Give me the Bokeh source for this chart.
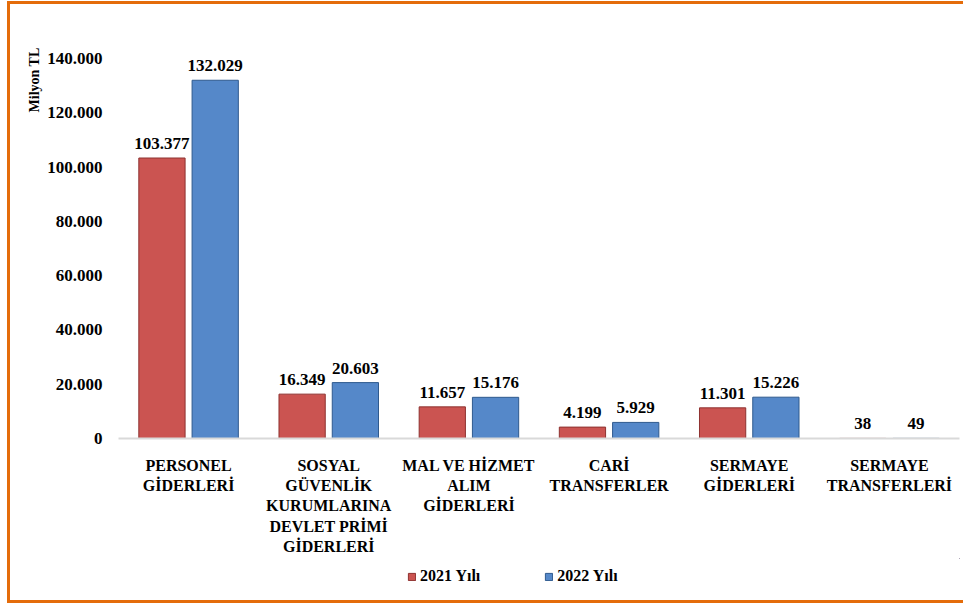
from bokeh.plotting import figure
from bokeh.layouts import column
from bokeh.models import (ColumnDataSource, FactorRange, Range1d, FixedTicker,
                          CustomJSTickFormatter, Legend, LegendItem, LabelSet, Title)
from bokeh.transform import dodge
from bokeh.core.properties import value
from bokeh.embed import file_html
from bokeh.resources import INLINE

categories = [
    "PERSONEL\nGİDERLERİ",
    "SOSYAL\nGÜVENLİK\nKURUMLARINA\nDEVLET PRİMİ\nGİDERLERİ",
    "MAL VE HİZMET\nALIM\nGİDERLERİ",
    "CARİ\nTRANSFERLER",
    "SERMAYE\nGİDERLERİ",
    "SERMAYE\nTRANSFERLERİ",
]
values_2021 = [103377, 16349, 11657, 4199, 11301, 38]
values_2022 = [132029, 20603, 15176, 5929, 15226, 49]
series_names = ["2021 Yılı", "2022 Yılı"]
y_ticks = [0, 20000, 40000, 60000, 80000, 100000, 120000, 140000]

def fmt(v):
    return f"{v:,}".replace(",", ".")

src = ColumnDataSource(dict(
    cat=categories,
    v1=values_2021,
    v2=values_2022,
    l1=[fmt(v) for v in values_2021],
    l2=[fmt(v) for v in values_2022],
))

FONT = "Liberation Serif"
RED = "#CB5451"
RED_LINE = "#8E3230"
BLUE = "#5588C9"
BLUE_LINE = "#2F5A8E"

p = figure(
    width=953, height=554,
    x_range=FactorRange(*categories, range_padding=0),
    y_range=Range1d(0, 150000),
    output_backend="svg", toolbar_location=None,
    min_border_left=108, min_border_right=4, min_border_top=27,
    min_border_bottom=120,
)
p.outline_line_color = None
p.xgrid.grid_line_color = None
p.ygrid.grid_line_color = None

r1 = p.vbar(x=dodge("cat", -0.19, range=p.x_range), top="v1", width=0.33,
            source=src, fill_color=RED, line_color=RED_LINE, line_width=1)
r2 = p.vbar(x=dodge("cat", 0.19, range=p.x_range), top="v2", width=0.33,
            source=src, fill_color=BLUE, line_color=BLUE_LINE, line_width=1)

for col, lab, off in (("v1", "l1", -0.19), ("v2", "l2", 0.19)):
    ls = LabelSet(x=dodge("cat", off, range=p.x_range), y=col, text=lab, source=src,
                  y_offset=9, text_align="center", text_baseline="bottom",
                  text_font=value(FONT), text_font_style="bold",
                  text_font_size="17px", text_color="#000000")
    p.add_layout(ls)

# y axis
p.yaxis.ticker = FixedTicker(ticks=y_ticks)
p.yaxis.formatter = CustomJSTickFormatter(code="""
    if (tick == 0) return "0";
    return String(Math.round(tick/1000)) + ".000";
""")
p.yaxis.axis_line_color = None
p.yaxis.major_tick_line_color = None
p.yaxis.minor_tick_line_color = None
p.yaxis.major_label_text_font = FONT
p.yaxis.major_label_text_font_style = "bold"
p.yaxis.major_label_text_font_size = "17px"
p.yaxis.major_label_text_color = "#000000"
p.yaxis.major_label_standoff = 10

# y axis title as a side title aligned to the top
p.add_layout(Title(text="Milyon TL", align="right", offset=16, standoff=6,
                   text_font=FONT, text_font_style="bold",
                   text_font_size="14px", text_color="#000000"), "left")

# x axis
p.xaxis.axis_line_color = "#D9D9D9"
p.xaxis.axis_line_width = 2
p.xaxis.major_tick_line_color = None
p.xaxis.minor_tick_line_color = None
p.xaxis.major_label_text_font = FONT
p.xaxis.major_label_text_font_style = "bold"
p.xaxis.major_label_text_font_size = "16px"
p.xaxis.major_label_text_color = "#000000"
p.xaxis.major_label_text_line_height = 1.2
p.xaxis.major_label_standoff = 12

# legend strip
p2 = figure(width=953, height=42, x_range=Range1d(0, 1), y_range=Range1d(0, 1),
            x_axis_type=None, y_axis_type=None,
            output_backend="svg", toolbar_location=None,
            min_border_left=0, min_border_right=0, min_border_top=0, min_border_bottom=0)
p2.outline_line_color = None
p2.grid.grid_line_color = None
offscreen = ColumnDataSource(dict(x=[5], top=[5], bottom=[4]))
g1 = p2.vbar(x="x", top="top", bottom="bottom", width=0.1, source=offscreen,
             fill_color=RED, line_color=RED_LINE)
g2 = p2.vbar(x="x", top="top", bottom="bottom", width=0.1, source=offscreen,
             fill_color=BLUE, line_color=BLUE_LINE)
legend = Legend(items=[LegendItem(label=series_names[0], renderers=[g1]),
                       LegendItem(label=series_names[1], renderers=[g2])],
                orientation="horizontal", location=(289, 15),
                glyph_width=9, glyph_height=9, label_standoff=4, spacing=64,
                label_text_font=FONT, label_text_font_style="bold",
                label_text_font_size="16px", label_text_color="#000000",
                border_line_color=None, background_fill_alpha=0,
                margin=0, padding=4)
p2.add_layout(legend)

ORANGE = "3px solid #E46C0A"
layout = column(p, p2, spacing=0,
                styles={"margin-left": "7px", "margin-top": "1px",
                        "border-left": ORANGE, "border-top": ORANGE,
                        "border-bottom": ORANGE})

open("out.html", "w").write(file_html(layout, INLINE))
